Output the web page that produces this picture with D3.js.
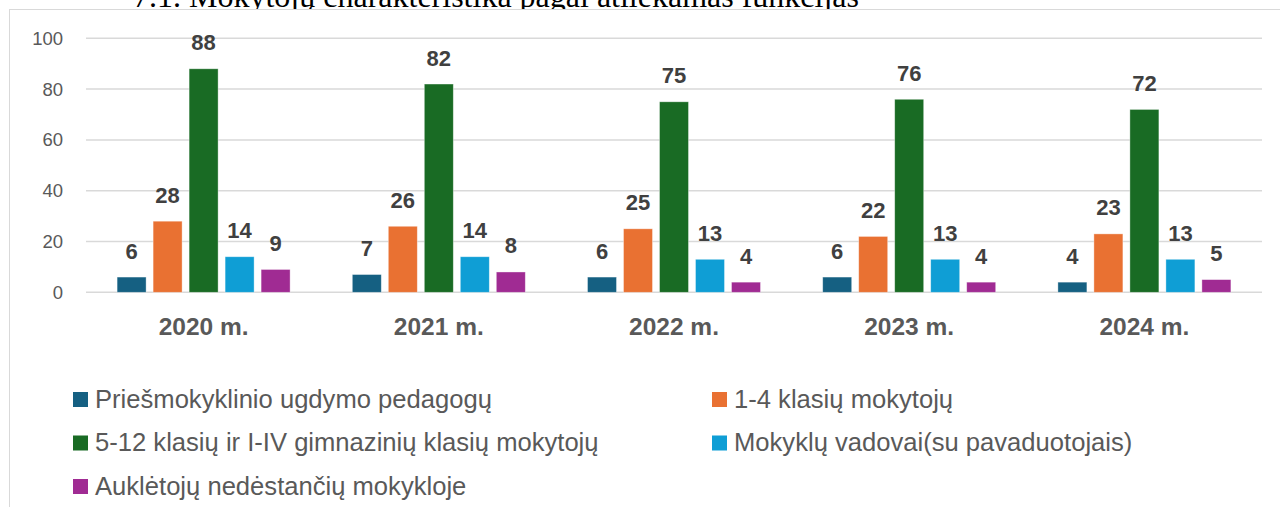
<!DOCTYPE html>
<html>
<head>
<meta charset="utf-8">
<script src="https://cdn.jsdelivr.net/npm/d3@7"></script>
<style>
  body { margin: 0; background: #fff; }
  svg { display: block; }
</style>
</head>
<body>
<div id="chart-area"></div>
<script>
// data
var years = ["2020 m.", "2021 m.", "2022 m.", "2023 m.", "2024 m."];
var seriesNames = [
  "Priešmokyklinio ugdymo pedagogų",
  "1-4 klasių mokytojų",
  "5-12 klasių ir I-IV gimnazinių klasių mokytojų",
  "Mokyklų vadovai(su pavaduotojais)",
  "Auklėtojų nedėstančių mokykloje"
];
var preschool = [6, 7, 6, 6, 4];
var grades1to4 = [28, 26, 25, 22, 23];
var grades5to12 = [88, 82, 75, 76, 72];
var principals = [14, 14, 13, 13, 13];
var educators = [9, 8, 4, 4, 5];
var yTicks = [0, 20, 40, 60, 80, 100];
var colors = ["#156082", "#E97132", "#196B24", "#0F9ED5", "#A02B93"];

var allSeries = [preschool, grades1to4, grades5to12, principals, educators];

var W = 1280, H = 507;
var svg = d3.select("#chart-area")
  .append("svg")
  .attr("width", W)
  .attr("height", H);

// heading above the chart box (cut off at the top in the original)
svg.append("text")
  .attr("x", 133)
  .attr("y", 7)
  .attr("font-family", "'Liberation Serif', 'Times New Roman', serif")
  .attr("font-size", "32px")
  .attr("fill", "#000")
  .text("7.1.  Mokytojų charakteristika pagal atliekamas funkcijas");

// chart box
svg.append("rect")
  .attr("x", 9.5)
  .attr("y", 9.5)
  .attr("width", 1300)
  .attr("height", 600)
  .attr("fill", "#fff")
  .attr("stroke", "#d9d9d9")
  .attr("stroke-width", 1);

var plot = {left: 86, right: 1262, top: 38.3, bottom: 292.3};

var x0 = d3.scaleBand()
  .domain(years)
  .range([plot.left, plot.right]);

var groupW = 173;
var x1 = d3.scaleBand()
  .domain(d3.range(seriesNames.length))
  .range([0, groupW])
  .paddingInner(7 / 36);

var y = d3.scaleLinear()
  .domain([0, 100])
  .range([plot.bottom, plot.top]);

// gridlines
svg.append("g")
  .selectAll("line")
  .data(yTicks)
  .enter()
  .append("line")
  .attr("x1", plot.left)
  .attr("x2", plot.right)
  .attr("y1", d => y(d))
  .attr("y2", d => y(d))
  .attr("stroke", "#d9d9d9")
  .attr("stroke-width", 1.5);

// y labels
svg.append("g")
  .selectAll("text")
  .data(yTicks)
  .enter()
  .append("text")
  .attr("x", 63)
  .attr("y", d => y(d))
  .attr("dy", "0.35em")
  .attr("text-anchor", "end")
  .attr("font-family", "'Liberation Sans', Arial, sans-serif")
  .attr("font-size", "18.5px")
  .attr("fill", "#595959")
  .text(d => d);

// bars + labels
var rows = [];
years.forEach((yr, i) => {
  allSeries.forEach((s, j) => rows.push({year: yr, k: j, v: s[i]}));
});
var off = (x0.bandwidth() - groupW) / 2;

var bars = svg.append("g");
bars.selectAll("rect")
  .data(rows)
  .enter()
  .append("rect")
  .attr("x", d => x0(d.year) + off + x1(d.k))
  .attr("y", d => y(d.v))
  .attr("width", x1.bandwidth())
  .attr("height", d => y(0) - y(d.v))
  .attr("fill", d => colors[d.k])
  .attr("stroke", "#fff")
  .attr("stroke-opacity", 0.5)
  .attr("stroke-width", 0.75);

bars.selectAll("text")
  .data(rows)
  .enter()
  .append("text")
  .attr("x", d => x0(d.year) + off + x1(d.k) + x1.bandwidth() / 2)
  .attr("y", d => y(d.v) - 18.5)
  .attr("text-anchor", "middle")
  .attr("font-family", "'Liberation Sans', Arial, sans-serif")
  .attr("font-weight", "bold")
  .attr("font-size", "22px")
  .attr("fill", "#404040")
  .text(d => d.v);

// category labels
svg.append("g")
  .selectAll("text")
  .data(years)
  .enter()
  .append("text")
  .attr("x", d => x0(d) + x0.bandwidth() / 2)
  .attr("y", 335)
  .attr("text-anchor", "middle")
  .attr("font-family", "'Liberation Sans', Arial, sans-serif")
  .attr("font-weight", "bold")
  .attr("font-size", "24.5px")
  .attr("fill", "#595959")
  .text(d => d);

// legend, two columns
var legend = svg.append("g")
  .selectAll("g")
  .data(seriesNames)
  .enter()
  .append("g")
  .attr("transform", (d, i) => `translate(${i % 2 ? 712 : 73}, ${407.5 + Math.floor(i / 2) * 43.5})`);

legend.append("rect")
  .attr("x", 0)
  .attr("y", -15.5)
  .attr("width", 15)
  .attr("height", 15)
  .attr("fill", (d, i) => colors[i]);

legend.append("text")
  .attr("x", 22)
  .attr("y", 0)
  .attr("font-family", "'Liberation Sans', Arial, sans-serif")
  .attr("font-size", "25.6px")
  .attr("fill", "#595959")
  .text(d => d);
</script>
</body>
</html>
